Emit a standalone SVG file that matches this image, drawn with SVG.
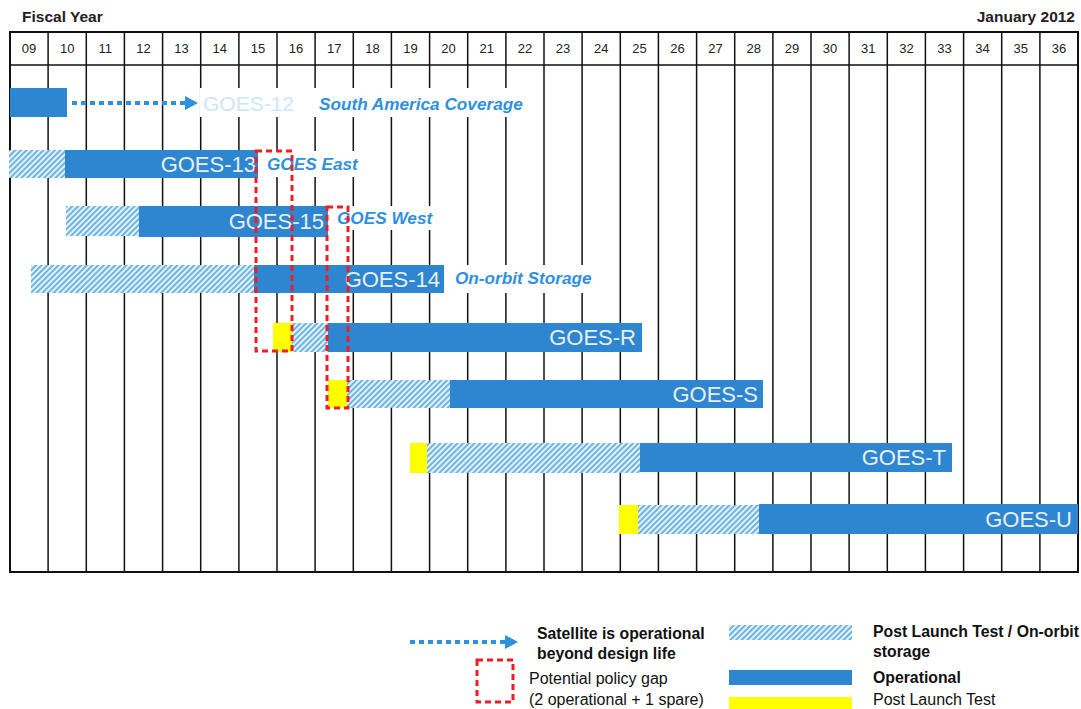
<svg xmlns="http://www.w3.org/2000/svg" width="1081" height="709" viewBox="0 0 1081 709">
<style>
.hdr{font-family:"Liberation Sans",Arial,sans-serif;font-size:13px;fill:#222;text-anchor:middle}
.title{font-family:"Liberation Sans",Arial,sans-serif;font-size:15.5px;font-weight:bold;fill:#222}
.grid{stroke:#111;stroke-width:1.5}
.op{fill:#2e86d0}
.hat{fill:url(#hatch)}
.ylw{fill:#ffff00}
.bg{fill:#fff}
.lbl{font-family:"Liberation Sans",Arial,sans-serif;font-size:22px;fill:#e8eef6;text-anchor:end}
.note{font-family:"Liberation Sans",Arial,sans-serif;font-size:17.2px;font-weight:bold;font-style:italic;fill:#2f8fe0}
.gap{fill:none;stroke:#ee1c25;stroke-width:3;stroke-dasharray:6 4}
.dot{stroke:#2f8fe0;stroke-width:4;stroke-dasharray:5 4;fill:none}
.leg{font-family:"Liberation Sans",Arial,sans-serif;font-size:16px;fill:#111}
.legb{font-family:"Liberation Sans",Arial,sans-serif;font-size:15.8px;font-weight:bold;fill:#111}
</style>
<defs>
<pattern id="hatch" patternUnits="userSpaceOnUse" width="4" height="4" patternTransform="rotate(45)">
<rect width="4" height="4" fill="#e3f1fb"/>
<line x1="1" y1="0" x2="1" y2="4" stroke="#62aee0" stroke-width="1.8"/>
</pattern>
</defs>
<rect width="1081" height="709" fill="#fff"/>
<text class="title" x="22" y="22">Fiscal Year</text>
<text class="title" x="1075" y="22" text-anchor="end">January 2012</text>
<g id="grid">
<rect x="10" y="32" width="1068" height="540" fill="none" stroke="#111" stroke-width="2"/>
<line class="grid" x1="10" y1="65" x2="1078" y2="65"/>
<line class="grid" x1="48.1" y1="32" x2="48.1" y2="572"/>
<line class="grid" x1="86.3" y1="32" x2="86.3" y2="572"/>
<line class="grid" x1="124.4" y1="32" x2="124.4" y2="572"/>
<line class="grid" x1="162.6" y1="32" x2="162.6" y2="572"/>
<line class="grid" x1="200.7" y1="32" x2="200.7" y2="572"/>
<line class="grid" x1="238.9" y1="32" x2="238.9" y2="572"/>
<line class="grid" x1="277" y1="32" x2="277" y2="572"/>
<line class="grid" x1="315.1" y1="32" x2="315.1" y2="572"/>
<line class="grid" x1="353.3" y1="32" x2="353.3" y2="572"/>
<line class="grid" x1="391.4" y1="32" x2="391.4" y2="572"/>
<line class="grid" x1="429.6" y1="32" x2="429.6" y2="572"/>
<line class="grid" x1="467.7" y1="32" x2="467.7" y2="572"/>
<line class="grid" x1="505.9" y1="32" x2="505.9" y2="572"/>
<line class="grid" x1="544" y1="32" x2="544" y2="572"/>
<line class="grid" x1="582.1" y1="32" x2="582.1" y2="572"/>
<line class="grid" x1="620.3" y1="32" x2="620.3" y2="572"/>
<line class="grid" x1="658.4" y1="32" x2="658.4" y2="572"/>
<line class="grid" x1="696.6" y1="32" x2="696.6" y2="572"/>
<line class="grid" x1="734.7" y1="32" x2="734.7" y2="572"/>
<line class="grid" x1="772.9" y1="32" x2="772.9" y2="572"/>
<line class="grid" x1="811" y1="32" x2="811" y2="572"/>
<line class="grid" x1="849.1" y1="32" x2="849.1" y2="572"/>
<line class="grid" x1="887.3" y1="32" x2="887.3" y2="572"/>
<line class="grid" x1="925.4" y1="32" x2="925.4" y2="572"/>
<line class="grid" x1="963.6" y1="32" x2="963.6" y2="572"/>
<line class="grid" x1="1001.7" y1="32" x2="1001.7" y2="572"/>
<line class="grid" x1="1039.9" y1="32" x2="1039.9" y2="572"/>
</g>
<g id="years">
<text class="hdr" x="29.1" y="53">09</text>
<text class="hdr" x="67.2" y="53">10</text>
<text class="hdr" x="105.3" y="53">11</text>
<text class="hdr" x="143.5" y="53">12</text>
<text class="hdr" x="181.6" y="53">13</text>
<text class="hdr" x="219.8" y="53">14</text>
<text class="hdr" x="257.9" y="53">15</text>
<text class="hdr" x="296.1" y="53">16</text>
<text class="hdr" x="334.2" y="53">17</text>
<text class="hdr" x="372.4" y="53">18</text>
<text class="hdr" x="410.5" y="53">19</text>
<text class="hdr" x="448.6" y="53">20</text>
<text class="hdr" x="486.8" y="53">21</text>
<text class="hdr" x="524.9" y="53">22</text>
<text class="hdr" x="563.1" y="53">23</text>
<text class="hdr" x="601.2" y="53">24</text>
<text class="hdr" x="639.4" y="53">25</text>
<text class="hdr" x="677.5" y="53">26</text>
<text class="hdr" x="715.6" y="53">27</text>
<text class="hdr" x="753.8" y="53">28</text>
<text class="hdr" x="791.9" y="53">29</text>
<text class="hdr" x="830.1" y="53">30</text>
<text class="hdr" x="868.2" y="53">31</text>
<text class="hdr" x="906.4" y="53">32</text>
<text class="hdr" x="944.5" y="53">33</text>
<text class="hdr" x="982.6" y="53">34</text>
<text class="hdr" x="1020.8" y="53">35</text>
<text class="hdr" x="1058.9" y="53">36</text>
</g>
<g id="goes12">
<rect class="op" x="10" y="88" width="57" height="29"/>
<rect class="bg" x="200" y="88" width="327" height="29"/>
<text x="203" y="111" font-family="Liberation Sans, Arial, sans-serif" font-size="21" fill="#cbe7f8">GOES-12</text>
<text class="note" x="319" y="110">South America Coverage</text>
</g>
<g id="goes13">
<rect class="hat" x="9" y="150" width="56" height="28"/>
<rect class="op" x="65" y="150" width="193" height="28"/>
<rect class="bg" x="258" y="151" width="104" height="26"/>
<text class="lbl" x="256" y="172">GOES-13</text>
<text class="note" x="267" y="170">GOES East</text>
</g>
<g id="goes15">
<rect class="hat" x="66" y="206" width="73" height="30"/>
<rect class="op" x="139" y="206" width="189" height="31"/>
<rect class="bg" x="328" y="206" width="107" height="24"/>
<text class="lbl" x="324" y="229">GOES-15</text>
<text class="note" x="337" y="224">GOES West</text>
</g>
<g id="goes14">
<rect class="hat" x="31" y="265" width="223" height="28"/>
<rect class="op" x="254" y="265" width="190" height="28"/>
<rect class="bg" x="444" y="265" width="152" height="28"/>
<text class="lbl" x="440" y="287">GOES-14</text>
<text class="note" x="455" y="284">On-orbit Storage</text>
</g>
<g id="goesR">
<rect class="ylw" x="273" y="323" width="19" height="29"/>
<rect class="hat" x="292" y="323" width="36" height="29"/>
<rect class="op" x="328" y="323" width="314" height="29"/>
<text class="lbl" x="636" y="345">GOES-R</text>
</g>
<g id="goesS">
<rect class="hat" x="347" y="380" width="103" height="28"/>
<rect class="ylw" x="328" y="380" width="19" height="28"/>
<rect class="op" x="450" y="380" width="313" height="28"/>
<text class="lbl" x="758" y="402">GOES-S</text>
</g>
<g id="goesT">
<rect class="ylw" x="410" y="443" width="17" height="30"/>
<rect class="hat" x="427" y="443" width="213" height="30"/>
<rect class="op" x="640" y="443" width="312" height="29"/>
<text class="lbl" x="946" y="465">GOES-T</text>
</g>
<g id="goesU">
<rect class="ylw" x="619" y="505" width="19" height="29"/>
<rect class="hat" x="638" y="505" width="121" height="29"/>
<rect class="op" x="759" y="504" width="319" height="30"/>
<text class="lbl" x="1072" y="527">GOES-U</text>
</g>
<g id="connectors">
<line class="dot" x1="72" y1="103" x2="186" y2="103"/>
<polygon points="185,96 198,103 185,110" fill="#2f8fe0"/>
</g>
<g id="gaps">
<rect class="gap" x="256" y="151" width="36" height="200"/>
<rect class="gap" x="327" y="207" width="21" height="201"/>
</g>
<g id="legend">
<line class="dot" x1="410" y1="642" x2="506" y2="642"/>
<polygon points="505,635 518,642 505,649" fill="#2f8fe0"/>
<text class="legb" x="537" y="639">Satellite is operational</text>
<text class="legb" x="537" y="659">beyond design life</text>
<rect class="gap" x="477" y="660" width="36" height="42"/>
<text class="leg" x="529" y="684">Potential policy gap</text>
<text class="leg" x="529" y="705">(2 operational + 1 spare)</text>
<rect class="hat" x="729" y="625" width="123" height="15"/>
<text class="legb" x="873" y="637">Post Launch Test / On-orbit</text>
<text class="legb" x="873" y="657">storage</text>
<rect class="op" x="729" y="670" width="123" height="15"/>
<text class="legb" x="873" y="683">Operational</text>
<rect class="ylw" x="729" y="697" width="123" height="12"/>
<text class="leg" x="873" y="705">Post Launch Test</text>
</g>
</svg>
